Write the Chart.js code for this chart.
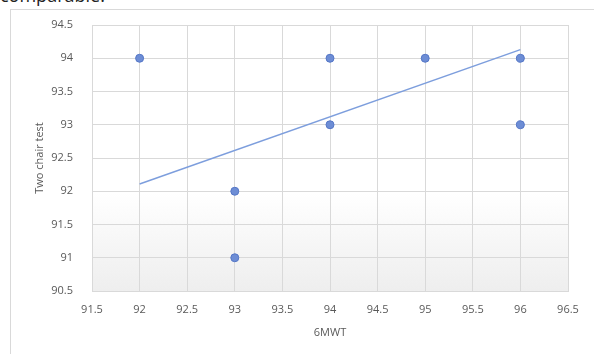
<!DOCTYPE html>
<html>
<head>
<meta charset="utf-8">
<script src="https://cdn.jsdelivr.net/npm/chart.js@4.4.1/dist/chart.umd.min.js"></script>
<style>
  html, body { margin: 0; padding: 0; background: #fff; overflow: hidden; }
  body { width: 594px; height: 354px; position: relative; }
  #above {
    position: absolute; left: 0; top: -17px;
    font-family: "Open Sans", sans-serif; font-size: 18px; color: #222;
    white-space: nowrap;
  }
  #chartBox {
    position: absolute; left: 10px; top: 9px; width: 583px; height: 344px;
    border-left: 1px solid #d9d9d9; border-top: 1px solid #d9d9d9;
  }
</style>
</head>
<body>
<div id="above">comparable.</div>
<div id="chartBox"><canvas id="scatterChart" width="583" height="344"></canvas></div>
<script>
// scatter values
const sixMwt = [92, 93, 93, 94, 94, 95, 96, 96];
const twoChair = [94, 92, 91, 94, 93, 94, 94, 93];

// linear trendline end points
const trendX = [92, 96];
const trendY = [92.11, 94.13];

const xTitle = '6MWT';
const yTitle = 'Two chair test';

const points = sixMwt.map((x, i) => ({ x: x, y: twoChair[i] }));
const trend = trendX.map((x, i) => ({ x: x, y: trendY[i] }));

const labelFont = { family: '"Open Sans", sans-serif', size: 11 };
const gray = '#595959';

// excel style numbers: 94 not 94.0
function fmt(v) {
  return String(Math.round(v * 10) / 10);
}

// white plot area that fades to light gray near the bottom
const plotBackground = {
  id: 'plotBackground',
  beforeDraw(chart) {
    const { ctx, chartArea } = chart;
    const g = ctx.createLinearGradient(0, chartArea.top, 0, chartArea.bottom);
    g.addColorStop(0, '#ffffff');
    g.addColorStop(0.63, '#ffffff');
    g.addColorStop(1, '#eeeeee');
    ctx.save();
    ctx.fillStyle = g;
    ctx.fillRect(chartArea.left, chartArea.top, chartArea.right - chartArea.left, chartArea.bottom - chartArea.top);
    ctx.restore();
  }
};

const ctx = document.getElementById('scatterChart').getContext('2d');
new Chart(ctx, {
  type: 'scatter',
  data: {
    datasets: [
      {
        label: 'Two chair test',
        data: points,
        backgroundColor: '#6d8dd5',
        borderColor: '#5577c7',
        borderWidth: 1,
        pointRadius: 4,
        order: 1
      },
      {
        label: 'Linear',
        data: trend,
        showLine: true,
        borderColor: '#7d9edd',
        borderWidth: 1.5,
        pointRadius: 0,
        order: 2
      }
    ]
  },
  plugins: [plotBackground],
  options: {
    responsive: false,
    animation: false,
    layout: { padding: { left: 0, top: 15, right: 26, bottom: 0 } },
    plugins: {
      legend: { display: false },
      tooltip: { enabled: false }
    },
    scales: {
      x: {
        type: 'linear',
        min: 91.5,
        max: 96.5,
        ticks: { stepSize: 0.5, color: gray, font: labelFont, padding: 12, callback: fmt },
        grid: { color: '#d9d9d9', drawTicks: false },
        border: { color: '#d9d9d9' },
        title: { display: true, text: xTitle, color: gray, font: labelFont, padding: { top: 0, bottom: 15 } },
        afterFit(scale) { scale.height = 63; }
      },
      y: {
        type: 'linear',
        min: 90.5,
        max: 94.5,
        ticks: { stepSize: 0.5, color: gray, font: labelFont, padding: 19, callback: fmt },
        grid: { color: '#d9d9d9', drawTicks: false },
        border: { color: '#d9d9d9' },
        title: { display: true, text: yTitle, color: gray, font: labelFont, padding: { top: 22, bottom: 0 } },
        afterFit(scale) {
          scale.width = 81;
          // tick padding would otherwise push the plot top down
          scale.paddingTop = 0;
          scale.paddingBottom = 0;
        }
      }
    }
  }
});
</script>
</body>
</html>
